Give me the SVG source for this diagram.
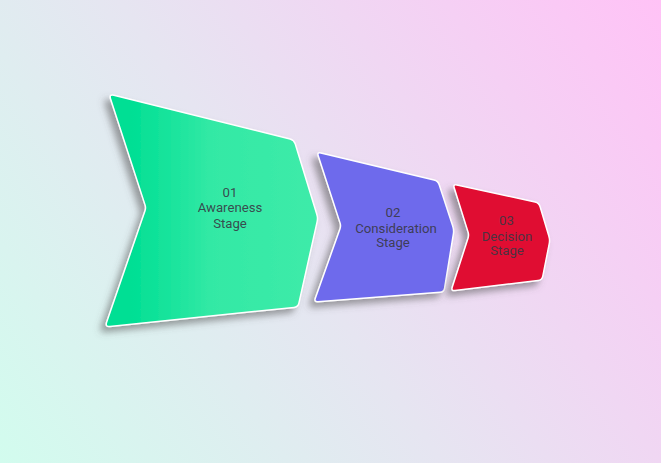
<svg xmlns="http://www.w3.org/2000/svg" width="661" height="463" viewBox="0 0 661 463">
<defs>
<linearGradient id="bg" x1="0" y1="463" x2="661" y2="0" gradientUnits="userSpaceOnUse">
<stop offset="0" stop-color="#d2fcee"/>
<stop offset="0.45" stop-color="#e6e5f1"/>
<stop offset="1" stop-color="#ffc2f6"/>
</linearGradient>
<linearGradient id="green" x1="105" y1="0" x2="318" y2="0" gradientUnits="userSpaceOnUse">
<stop offset="0.12" stop-color="#00df94"/>
<stop offset="0.5" stop-color="#33e9a5"/>
<stop offset="1" stop-color="#3eeba9"/>
</linearGradient>
<filter id="sh" x="-20%" y="-20%" width="140%" height="140%">
<feDropShadow dx="-5" dy="5" stdDeviation="3.5" flood-color="#555" flood-opacity="0.55"/>
</filter>
</defs>
<style>
.shape{stroke:#ffffff;stroke-width:1.5;filter:url(#sh)}
.lbl{font-family:Roboto,"Liberation Sans",sans-serif;font-size:13.2px;fill:#383844;fill-opacity:0.9;text-anchor:middle}
</style>
<rect width="661" height="463" fill="url(#bg)"/>
<g id="connectors"/>
<g id="stage1">
<path class="shape" fill="url(#green)" d="M113.9,95.2 L290.1,139 Q294,140 295.2,143.8 L316.8,214.2 Q318,218 317.1,221.9 L298.9,303.1 Q298,307 294,307.4 L110,326.5 Q105,327 106.6,322.3 L145,210.8 Q146,208 145.1,205.1 L110.5,98.8 Q109,94 113.9,95.2 Z"/>
<text class="lbl" x="230" y="196.5">01</text>
<text class="lbl" x="230" y="212.2">Awareness</text>
<text class="lbl" x="230" y="227.7">Stage</text>
</g>
<g id="stage2">
<path class="shape" fill="#6e6aec" d="M320.9,152.9 L434.1,180.1 Q438,181 439.2,184.8 L452.8,226.2 Q454,230 453.4,233.9 L444.6,288.1 Q444,292 440,292.3 L318,301.7 Q314,302 315.3,298.2 L340,228.8 Q341,226 340.1,223.1 L318.2,155.8 Q317,152 320.9,152.9 Z"/>
<text class="lbl" x="393" y="217.4">02</text>
<text class="lbl" x="396" y="233">Consideration</text>
<text class="lbl" x="393" y="247.4">Stage</text>
</g>
<g id="stage3">
<path class="shape" fill="#e00b31" d="M456.9,184.9 L535.1,202.1 Q539,203 540.1,206.8 L548.9,236.2 Q550,240 549.2,243.9 L542.8,276.1 Q542,280 538,280.5 L455,290.5 Q451,291 452.2,287.2 L468.1,237.9 Q469,235 468.1,232.1 L454.2,187.8 Q453,184 456.9,184.9 Z"/>
<text class="lbl" x="506.5" y="224.7">03</text>
<text class="lbl" x="507" y="240.7">Decision</text>
<text class="lbl" x="507" y="254.7">Stage</text>
</g>
</svg>
